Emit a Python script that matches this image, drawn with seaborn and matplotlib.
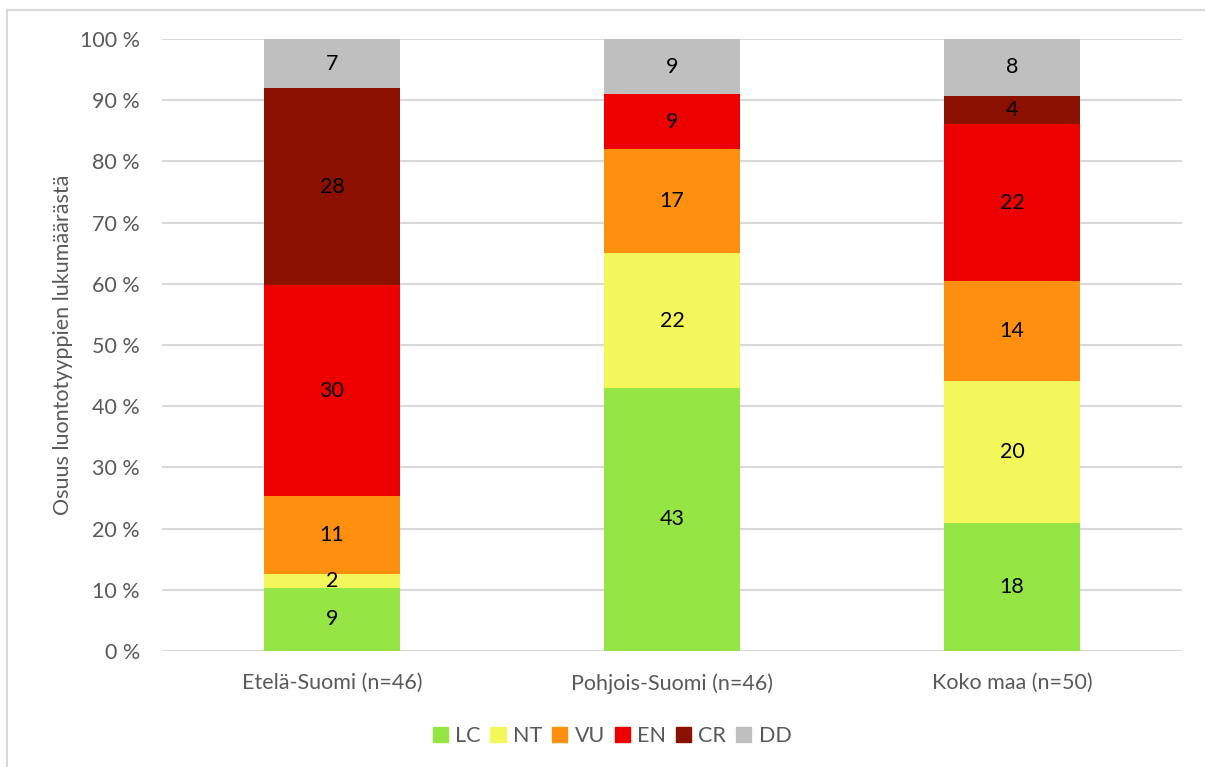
import matplotlib
matplotlib.use("Agg")
import matplotlib.pyplot as plt
import matplotlib.patches as mpatches
import numpy as np
import pandas as pd
import seaborn as sns

# counts per class, bars are scaled to 100 %
regions = ["Etelä-Suomi (n=46)", "Pohjois-Suomi (n=46)", "Koko maa (n=50)"]
classes = ["LC", "NT", "VU", "EN", "CR", "DD"]
lc = [9, 43, 18]
nt = [2, 22, 20]
vu = [11, 17, 14]
en = [30, 9, 22]
cr = [28, 0, 4]
dd = [7, 9, 8]
colors = ["#95E545", "#F4F75A", "#FF8F0F", "#EE0000", "#8C1000", "#BFBFBF"]

counts = np.array([lc, nt, vu, en, cr, dd], dtype=float)
shares = counts / counts.sum(axis=0) * 100
tops = np.cumsum(shares, axis=0)

sns.set_style("white")
plt.rcParams["font.family"] = ["Lato", "DejaVu Sans"]
fs = 15.5

fig = plt.figure(figsize=(12.05, 7.67), dpi=100)
ax = fig.add_axes([162 / 1205, 116 / 767, 1020 / 1205, 612 / 767])

# draw cumulative bars from the top class down so they overlap into stacks
for i in range(len(classes) - 1, -1, -1):
    d = pd.DataFrame({"region": regions, "top": tops[i]})
    sns.barplot(data=d, x="region", y="top", color=colors[i], width=0.4,
                saturation=1, linewidth=0, ax=ax, zorder=2)

for i in range(len(classes)):
    for j in range(len(regions)):
        if counts[i, j] == 0:
            continue
        mid = tops[i, j] - shares[i, j] / 2
        ax.text(j, mid, "%d" % counts[i, j], ha="center", va="center",
                fontsize=fs, color="black", zorder=3)

ax.set_xlim(-0.5, 2.5)
ax.set_ylim(0, 100)
ax.set_yticks(range(0, 101, 10))
ax.set_yticklabels(["%d %%" % v for v in range(0, 101, 10)])
ax.yaxis.grid(True, color="#D9D9D9", linewidth=1.5, zorder=0)
ax.set_axisbelow(True)
for s in ax.spines.values():
    s.set_visible(False)
ax.tick_params(axis="both", length=0, labelsize=fs, labelcolor="#595959")
ax.tick_params(axis="x", pad=16)
ax.tick_params(axis="y", pad=16)
ax.set_xlabel("")
ax.set_ylabel("Osuus luontotyyppien lukumäärästä", fontsize=fs,
              color="#595959", labelpad=5)

handles = [mpatches.Patch(color=c) for c in colors]
fig.legend(handles, classes, loc="center",
           bbox_to_anchor=(612 / 1205, 1 - 736 / 767),
           ncol=6, frameon=False, fontsize=fs, labelcolor="#595959",
           handlelength=0.7, handleheight=0.7, handletextpad=0.35,
           columnspacing=0.45)

# light frame of the chart area
fig.patches.append(mpatches.Rectangle((7 / 1205, -0.1), 1.2, 1 - 10 / 767 + 0.1,
                                      transform=fig.transFigure, fill=False,
                                      edgecolor="#D9D9D9", linewidth=1.5))

fig.savefig("out.png", dpi=100)
